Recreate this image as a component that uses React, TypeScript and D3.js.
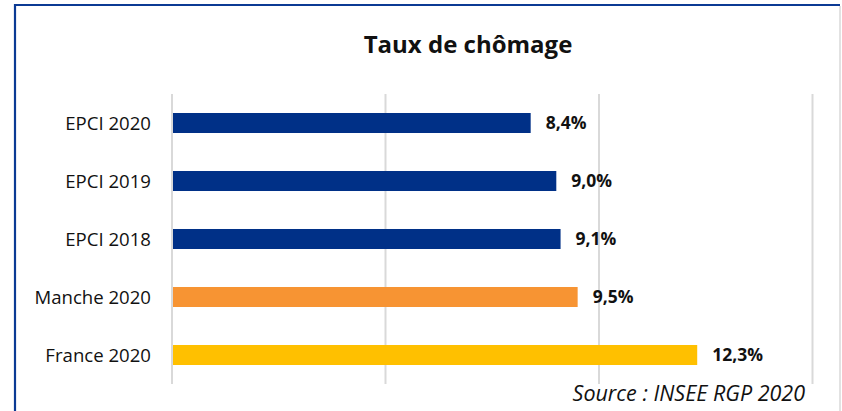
import React from "react";
import * as d3 from "d3";

const categories = ["EPCI 2020", "EPCI 2019", "EPCI 2018", "Manche 2020", "France 2020"];
const values = [8.4, 9.0, 9.1, 9.5, 12.3];
const colors = ["#003087", "#003087", "#003087", "#F79433", "#FFC000"];
const xTicks = [0, 5, 10, 15];
const title = "Taux de chômage";
const source = "Source : INSEE RGP 2020";

const W = 842;
const H = 411;
const FONT = "'Open Sans', sans-serif";

export default function App() {
  const x = d3.scaleLinear().domain([0, 15]).range([172, 812.5]);
  const y = d3.scaleBand().domain(categories).range([94, 384]).paddingInner(0.655).paddingOuter(0.3275);
  const fmt = (v: number) => v.toFixed(1).replace(".", ",") + "%";

  return (
    <svg width={W} height={H} style={{ position: "absolute", left: 0, top: 0, background: "#fff" }}>
      <rect x={0} y={0} width={W} height={H} fill="#fff" />
      {/* frame */}
      <line x1={15} x2={840} y1={5} y2={5} stroke="#0B3A94" strokeWidth={2.2} />
      <line x1={15} x2={15} y1={4} y2={H} stroke="#0B3A94" strokeWidth={2.2} />
      <line x1={840} x2={840} y1={6} y2={H} stroke="#d9d9d9" strokeWidth={1.5} />

      <text x={468} y={53} textAnchor="middle" fontFamily={FONT} fontWeight={700} fontSize={24} fill="#111">
        {title}
      </text>

      {xTicks.map((t) => (
        <line key={t} x1={x(t)} x2={x(t)} y1={94} y2={384} stroke="#d9d9d9" strokeWidth={2} />
      ))}

      {categories.map((c, i) => {
        const yy = y(c)!;
        const bh = y.bandwidth();
        return (
          <g key={c}>
            <rect x={x(0) + 1} y={yy} width={x(values[i]) - x(0) - 1} height={bh} fill={colors[i]} />
            <text x={151} y={yy + bh / 2} dy="0.36em" textAnchor="end" fontFamily={FONT} fontSize={18.6} fill="#111">
              {c}
            </text>
            <text x={x(values[i]) + 15} y={yy + bh / 2} dy="0.36em" fontFamily={FONT} fontWeight={700} fontSize={17.5} fill="#111">
              {fmt(values[i])}
            </text>
          </g>
        );
      })}

      <text x={805} y={401} textAnchor="end" fontFamily={FONT} fontStyle="italic" fontSize={21.5} fill="#111">
        {source}
      </text>
    </svg>
  );
}
